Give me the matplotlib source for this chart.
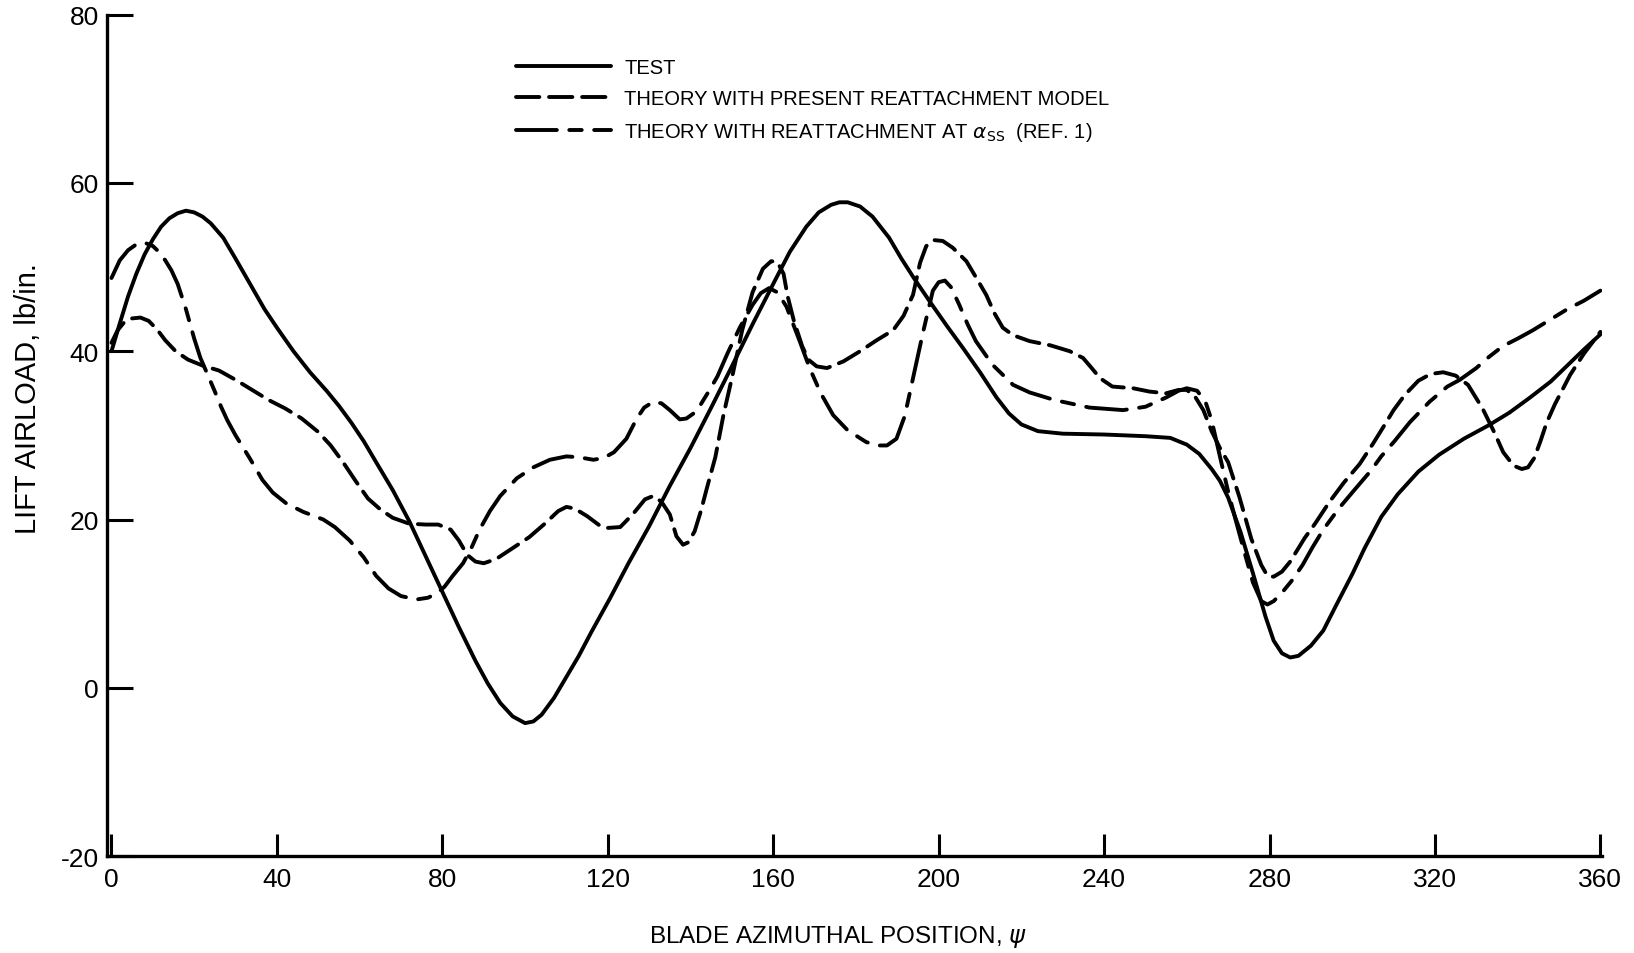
import matplotlib
matplotlib.use("Agg")
import matplotlib.pyplot as plt

plt.rcParams['font.family'] = ['Liberation Sans', 'DejaVu Sans']
plt.rcParams['mathtext.fontset'] = 'dejavusans'
plt.rcParams['axes.unicode_minus'] = False

# ---------------- data ----------------
test_psi = [0, 2, 4, 6, 8, 10, 12, 14, 16, 18, 20, 22, 24, 27, 30, 33.5, 37, 40, 44, 48,
            52, 55, 58, 61, 64, 68, 72, 76, 80, 84, 88, 91, 94, 97, 100, 102, 104, 107, 110, 113,
            116, 120.5, 125, 130, 135, 140, 145, 150, 155, 160, 164, 168, 171, 174, 176, 178, 181, 184, 188, 191,
            194, 198, 202, 206, 210, 214, 217, 220, 224, 230, 240, 250, 256, 260, 263, 266, 268, 270, 273, 276,
            279, 281, 283, 285, 287, 290, 293, 296, 300, 303, 307, 311, 316, 321, 327, 333, 338, 343, 348, 352,
            356, 360]
test_val = [40, 43.3, 46.5, 49.2, 51.5, 53.3, 54.8, 55.8, 56.4, 56.7, 56.5, 56, 55.2, 53.5, 51, 48, 45, 42.8, 40, 37.5,
            35.3, 33.5, 31.5, 29.3, 26.8, 23.5, 19.8, 15.6, 11.4, 7.2, 3.2, 0.5, -1.8, -3.4, -4.2, -4, -3.2, -1.2, 1.3, 3.8,
            6.6, 10.6, 14.8, 19.2, 24, 28.5, 33.3, 38.2, 43.2, 48, 51.8, 54.8, 56.5, 57.4, 57.7, 57.7, 57.2, 56, 53.5, 51,
            48.7, 45.8, 43, 40.3, 37.5, 34.5, 32.6, 31.3, 30.5, 30.2, 30.1, 29.9, 29.7, 28.9, 27.8, 26, 24.6, 22.6, 18.5, 13.6,
            8.5, 5.6, 4.1, 3.6, 3.8, 5, 6.8, 9.7, 13.5, 16.6, 20.3, 23, 25.7, 27.7, 29.6, 31.2, 32.7, 34.5, 36.4, 38.3,
            40.2, 42]

present_psi = [0, 1.5, 3, 5, 7, 9, 11, 13, 15.5, 18.5, 22, 26, 30, 34, 38, 42, 46, 50, 53, 56,
               59, 62, 65, 68, 72, 76, 79, 82, 84, 86, 88, 90, 93, 97, 101, 105, 108, 110, 112, 115,
               118, 120, 123, 126, 129, 131, 133, 135, 136.6, 138.2, 139.5, 141, 142.5, 144, 146, 148, 150, 152.5, 155, 157.5,
               159.5, 161, 162.5, 163.5, 165, 167, 168.5, 170.5, 173, 177, 181, 185, 189, 191.5, 193.8, 195.5, 197, 199, 201, 203.4,
               206.7, 209, 211.5, 213.5, 215.5, 218, 222, 227, 231.7, 234.9, 237, 239, 242, 247, 251, 255, 258, 260, 262, 264,
               266, 268, 270, 272.7, 275.6, 278, 279.5, 281, 283, 285, 288.5, 291, 294.5, 298, 301.8, 305, 307.4, 310, 312.7, 316,
               319, 322, 325, 328, 331.5, 334.4, 336.5, 339, 341, 342.5, 344, 345.5, 347, 349, 352.7, 356, 360]
present_val = [41, 42.5, 43.4, 43.9, 44, 43.6, 42.6, 41.3, 40, 39, 38.3, 37.7, 36.6, 35.4, 34.2, 33.2, 32, 30.4, 28.8, 26.8,
               24.6, 22.5, 21.2, 20.2, 19.5, 19.4, 19.4, 18.8, 17.5, 15.8, 15, 14.8, 15.3, 16.6, 17.9, 19.6, 21, 21.5, 21.3, 20.4,
               19.3, 19, 19.1, 20.6, 22.4, 22.8, 22.1, 20.6, 18, 17, 17.3, 18.6, 21, 23.8, 27.4, 32.5, 36.8, 42.5, 47, 49.8,
               50.7, 50.6, 49.2, 46.5, 43.6, 40.6, 39, 38.2, 38, 38.8, 40, 41.3, 42.5, 44.2, 46.7, 50.5, 52.5, 53.2, 53.1, 52.3,
               50.7, 48.8, 46.7, 44.5, 42.8, 41.9, 41.2, 40.7, 40, 39.2, 38, 36.8, 35.8, 35.6, 35.2, 35, 35.4, 35.4, 34.6, 33,
               30.5, 28.5, 26.8, 22.7, 17.7, 14.6, 13.3, 13.2, 13.8, 15, 17.8, 19.5, 22.1, 24.4, 26.6, 29, 30.9, 33, 34.8, 36.5,
               37.3, 37.5, 37.1, 36, 33.2, 30.3, 28, 26.4, 26, 26.2, 27.3, 29.3, 31.5, 33.7, 37.2, 39.7, 42.3]

ref1_psi = [0, 2, 4, 6, 8, 10, 11.7, 13, 14.5, 16, 18, 20, 21.5, 23, 25, 26.5, 28, 30, 33.4, 36.5,
            39, 42.3, 46.4, 51.2, 54, 57.6, 61, 64, 67, 70, 73.8, 76.5, 78.6, 80.5, 82.5, 85, 87, 89, 91.5, 94,
            98, 102, 106, 110, 113, 116.5, 119, 121.5, 124.5, 127, 128.8, 131, 133, 135, 137.4, 139, 141, 142.5, 144.5, 146.5,
            149, 151.9, 155, 157, 159, 161, 163.2, 165, 166.4, 168.8, 171.5, 174.5, 178, 182.5, 185.5, 187.5, 189.8, 191.8, 193.8, 195,
            196.2, 198.6, 200, 201.5, 203, 205, 207, 209, 213, 218, 222, 228, 236.5, 244.6, 250, 255, 258, 260, 262.5, 264.5,
            266, 268, 270, 272, 274, 276, 278, 279.5, 281, 283, 285.5, 288, 290.4, 293, 296.9, 300.5, 304.5, 307, 310.2, 314,
            318.7, 323, 326, 330, 333, 336.4, 340, 343.7, 348, 352, 356, 360]
ref1_val = [48.7, 50.8, 52, 52.7, 52.9, 52.5, 51.7, 50.8, 49.6, 48, 45, 41.5, 39.2, 37.5, 35.2, 33.4, 31.8, 30, 27.3, 24.7,
            23.2, 21.9, 20.9, 20, 19.1, 17.5, 15.5, 13.3, 11.8, 10.9, 10.5, 10.7, 11.2, 12, 13.3, 14.8, 16.6, 18.8, 21, 22.8,
            24.9, 26.2, 27.1, 27.5, 27.4, 27.1, 27.3, 28, 29.6, 32, 33.3, 34, 33.8, 33, 31.9, 32, 32.7, 33.7, 35.3, 37,
            39.8, 42.8, 45.5, 46.9, 47.5, 47, 45.3, 43, 41.2, 38, 35, 32.4, 30.6, 29.2, 28.8, 28.8, 29.6, 32.3, 36.8, 39.5,
            42.2, 47.2, 48.2, 48.4, 47.6, 45.5, 43.2, 41.2, 38.4, 36, 35.1, 34.2, 33.3, 33, 33.4, 34.5, 35.3, 35.6, 35.3, 34,
            31.8, 27.5, 23.3, 19.6, 16, 12.5, 10.3, 9.9, 10.3, 11.3, 12.8, 14.6, 16.7, 18.8, 21.4, 23.5, 25.8, 27.5, 29.3, 31.6,
            34, 35.8, 36.6, 38, 39.3, 40.6, 41.5, 42.5, 43.8, 45, 46, 47.2]

labels = ["TEST",
          "THEORY WITH PRESENT REATTACHMENT MODEL",
          r"THEORY WITH REATTACHMENT AT $\alpha_{\rm SS}$  (REF. 1)"]
x_ticks = [0, 40, 80, 120, 160, 200, 240, 280, 320, 360]
y_ticks = [-20, 0, 20, 40, 60, 80]

# ---------------- figure ----------------
fig = plt.figure(figsize=(16.34, 9.54), dpi=100)
ax = fig.add_axes([0.0657, 0.1016, 0.915, 0.882])

lw = 2.8
ax.plot(test_psi, test_val, color='black', lw=lw, solid_capstyle='round', label=labels[0])
ax.plot(present_psi, present_val, color='black', lw=lw, dashes=(6.0, 2.5),
        dash_capstyle='round', label=labels[1])
ax.plot(ref1_psi, ref1_val, color='black', lw=lw, dashes=(10.5, 3.2, 3.2, 3.2),
        dash_capstyle='round', label=labels[2])

ax.set_xlim(-1, 360.5)
ax.set_ylim(-20, 80)
ax.set_xticks(x_ticks)
ax.set_yticks(y_ticks)

for s in ['top', 'right']:
    ax.spines[s].set_visible(False)
for s in ['left', 'bottom']:
    ax.spines[s].set_linewidth(2.4)

ax.tick_params(axis='y', direction='in', length=19, width=2.2, labelsize=19, pad=6)
ax.tick_params(axis='x', direction='in', length=16, width=2.2, labelsize=19, pad=8)

ax.set_xlabel(r"BLADE AZIMUTHAL POSITION, $\psi$", fontsize=17.5)
ax.xaxis.set_label_coords(0.489, -0.08)
ax.set_ylabel("LIFT AIRLOAD, lb/in.", fontsize=21)
ax.yaxis.set_label_coords(-0.044, 0.545)

ax.legend(loc='upper left', bbox_to_anchor=(0.316, 0.938), bbox_transform=fig.transFigure,
          frameon=False, fontsize=14.5, handlelength=4.7, handletextpad=0.65,
          labelspacing=0.6, borderpad=0, borderaxespad=0)

fig.savefig("out.png", dpi=100)
